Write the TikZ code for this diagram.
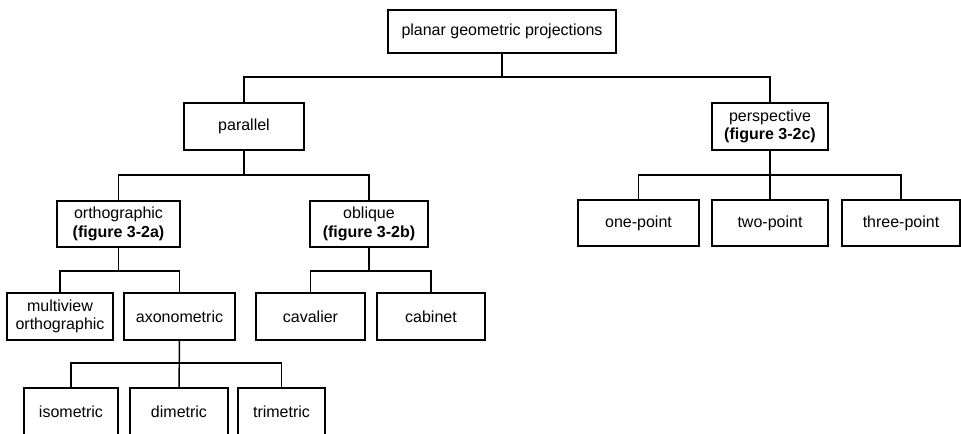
\documentclass[tikz,border=0pt]{standalone}
\usepackage{fontspec}
\setmainfont{Liberation Sans}
\usetikzlibrary{calc}

\begin{document}
\begin{tikzpicture}[x=0.75pt,y=-0.75pt]
\tikzstyle{every node}=[draw, line width=1.2pt, align=center, inner sep=2pt, font=\fontsize{12}{14}\selectfont];
\tikzstyle{line}=[line width=1.1pt];

\clip (0,0) rectangle (961,433);

\draw (502,31.5) node[minimum width=171pt, minimum height=32.25pt] (a1) {planar geometric projections};

\draw (244,126.5) node[minimum width=90pt, minimum height=35.25pt] (a2) {parallel};
\draw (770,126.5) node[minimum width=87pt, minimum height=35.25pt] (a3) {perspective\\\textbf{(figure 3-2c)}};

\draw (118.5,224) node[minimum width=92.25pt, minimum height=34.5pt] (a4) {orthographic\\\textbf{(figure 3-2a)}};
\draw (369,224) node[minimum width=88.5pt, minimum height=34.5pt] (a5) {oblique\\\textbf{(figure 3-2b)}};
\draw (638.5,223) node[minimum width=90.75pt, minimum height=34.5pt] (a6) {one-point};
\draw (770,223) node[minimum width=87pt, minimum height=34.5pt] (a7) {two-point};
\draw (901,223) node[minimum width=88.5pt, minimum height=34.5pt] (a8) {three-point};

\draw (60,316.5) node[minimum width=79.5pt, minimum height=35.25pt] (a9) {multiview\\orthographic};
\draw (179.5,316.5) node[minimum width=83.25pt, minimum height=35.25pt] (a10) {axonometric};
\draw (310.5,316.5) node[minimum width=81.75pt, minimum height=35.25pt] (a11) {cavalier};
\draw (431,316.5) node[minimum width=81pt, minimum height=35.25pt] (a12) {cabinet};

\draw (71,412) node[minimum width=70.5pt, minimum height=36pt] (a13) {isometric};
\draw (179,412) node[minimum width=73.5pt, minimum height=36pt] (a14) {dimetric};
\draw (281.5,412) node[minimum width=65.25pt, minimum height=36pt] (a15) {trimetric};

\coordinate (b1) at (0,77);
\coordinate (b2) at (0,175);
\coordinate (b3) at (0,271);
\coordinate (b4) at (0,363);

\draw[line] (a1) -- (a1 |- b1) -| (a2);
\draw[line] (a1 |- b1) -| (a3);

\draw[line] (a2) -- (a2 |- b2) -| (a4);
\draw[line] (a2 |- b2) -| (a5);
\draw[line] (a3) -- (a3 |- b2) -| (a6);
\draw[line] (a3 |- b2) -| (a8);
\draw[line] (a3) -- (a7);

\draw[line] (a4) -- (a4 |- b3) -| (a9);
\draw[line] (a4 |- b3) -| (a10);
\draw[line] (a5) -- (a5 |- b3) -| (a11);
\draw[line] (a5 |- b3) -| (a12);

\draw[line] (a10) -- (a10 |- b4) -| (a13);
\draw[line] (a10 |- b4) -| (a15);
\draw[line] (a10) -- (a14);

\end{tikzpicture}
\end{document}
